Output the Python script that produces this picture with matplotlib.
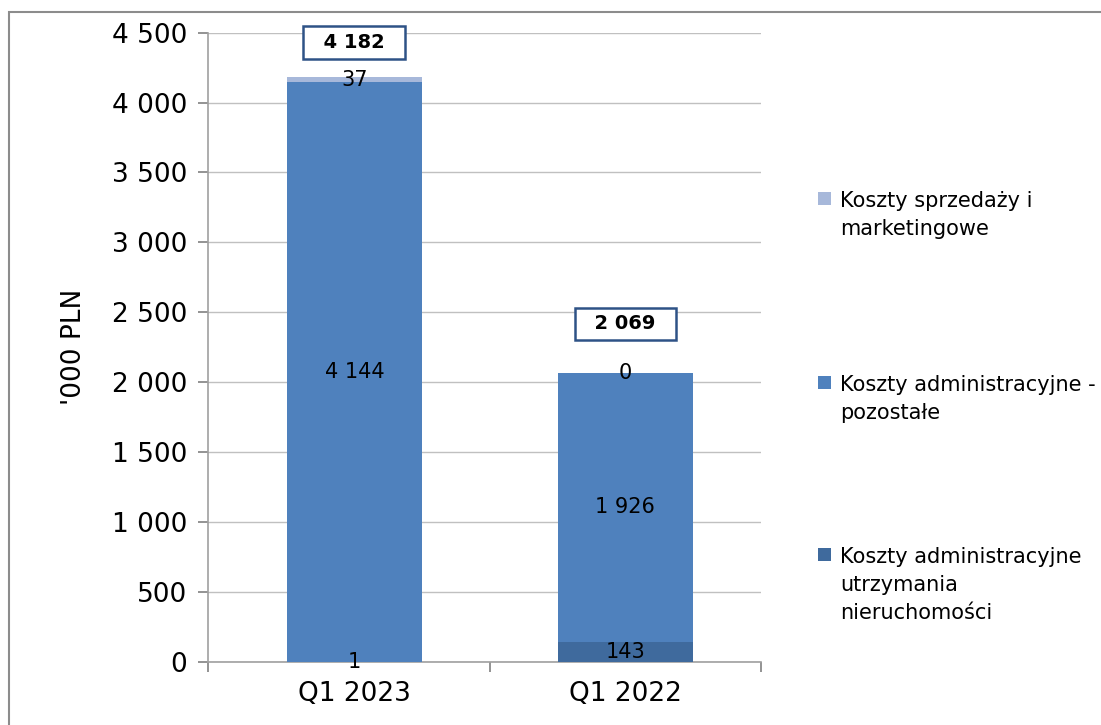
import matplotlib.pyplot as plt
from matplotlib.patches import Rectangle
import numpy as np

kwartaly = ['Q1 2023', 'Q1 2022']
utrzymanie = [1, 143]
pozostale = [4144, 1926]
sprzedaz = [37, 0]
sumy = [4182, 2069]

etykiety = ['Koszty sprzedaży i\nmarketingowe',
            'Koszty administracyjne -\npozostałe',
            'Koszty administracyjne\nutrzymania\nnieruchomości']
kolory = ['#A7B8DA', '#4F81BD', '#3F6A9D']

W, H = 1101, 725


def fmt(v):
    # separator tysięcy jako spacja
    return f'{v:,.0f}'.replace(',', ' ')


plt.rcParams['font.family'] = ['DejaVu Sans']
fig = plt.figure(figsize=(W / 100, H / 100), dpi=100)
ax = fig.add_axes([0.189, 0.087, 0.502, 0.868])

x = np.arange(len(kwartaly))
szer = 0.5
dol = np.zeros(len(x))
warstwy = [(utrzymanie, kolory[2]),
           (pozostale, kolory[1]),
           (sprzedaz, kolory[0])]
for wartosci, kolor in warstwy:
    ax.bar(x, wartosci, szer, bottom=dol, color=kolor, zorder=3)
    for xi, v, d in zip(x, wartosci, dol):
        ax.text(xi, d + v / 2, fmt(v), ha='center', va='center', fontsize=15, zorder=5)
    dol = dol + np.array(wartosci)

# sumy w ramkach nad słupkami
przesuniecia = [25, 35]
for xi, s, off in zip(x, sumy, przesuniecia):
    ax.annotate('  ' + fmt(s) + '  ', (xi, s), xytext=(0, off), textcoords='offset points',
                ha='center', va='center', fontsize=14, fontweight='bold', zorder=6,
                bbox=dict(boxstyle='square,pad=0.35', fc='white', ec='#2E5286', lw=1.8))

ax.set_xlim(-0.54, 1.5)
ax.set_ylim(0, 4500)
ax.set_yticks(np.arange(0, 4501, 500))
ax.set_yticklabels([fmt(v) for v in np.arange(0, 4501, 500)], fontsize=19)
ax.set_xticks(x)
ax.set_xticklabels(kwartaly, fontsize=19)
ax.set_xticks([-0.54, 0.5, 1.5], minor=True)
ax.tick_params(axis='x', which='major', length=0, pad=14)
ax.tick_params(axis='x', which='minor', length=7, color='#808080', width=1.2)
ax.tick_params(axis='y', length=7, color='#808080', width=1.2, pad=8)
ax.set_ylabel("'000 PLN", fontsize=19, labelpad=18)

ax.grid(axis='y', color='#C0C0C0', lw=1, zorder=0)
for s in ['top', 'right']:
    ax.spines[s].set_visible(False)
for s in ['left', 'bottom']:
    ax.spines[s].set_color('#A0A0A0')
    ax.spines[s].set_linewidth(1.2)

# legenda rysowana ręcznie (kwadrat przy pierwszej linii)
linie_bazowe = [207, 391, 563]
for et, kolor, yb in zip(etykiety, kolory, linie_bazowe):
    fig.patches.append(Rectangle((818 / W, 1 - (yb - 2) / H), 13 / W, 13 / H,
                                 transform=fig.transFigure, fc=kolor, ec='none'))
    for k, linia in enumerate(et.split('\n')):
        fig.text(840 / W, 1 - (yb + 28 * k) / H, linia, fontsize=15, va='baseline', ha='left')

# ramka wokół wykresu
fig.patches.append(Rectangle((9 / W, -0.1), 1.2, 1 - 12 / H + 0.1, transform=fig.transFigure,
                             fill=False, ec='#8C8C8C', lw=1.5))

fig.savefig('out.png', dpi=100)
